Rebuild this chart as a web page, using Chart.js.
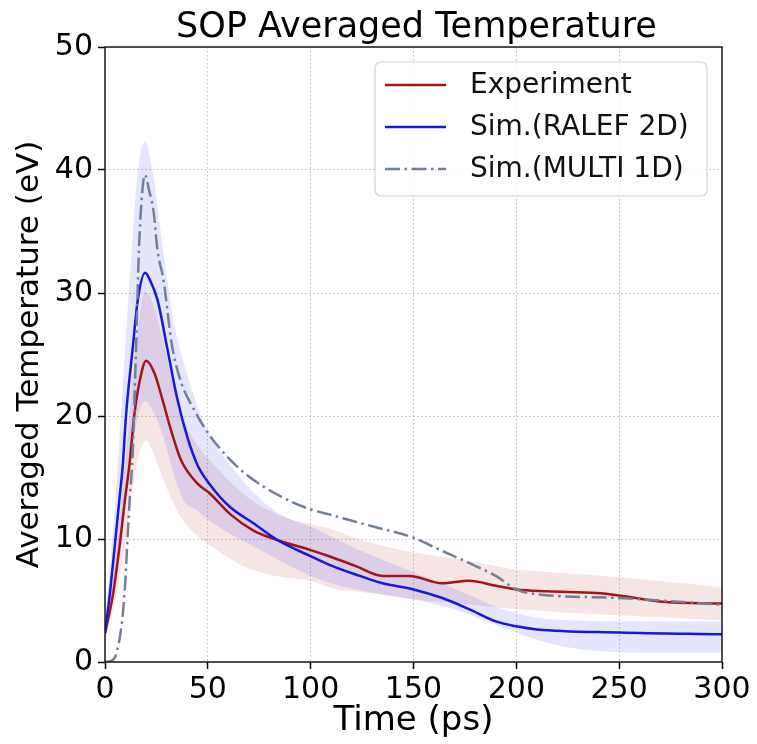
<!DOCTYPE html>
<html>
<head>
<meta charset="utf-8">
<script src="https://cdn.jsdelivr.net/npm/chart.js@4.4.1/dist/chart.umd.min.js"></script>
<style>
  html, body { margin: 0; padding: 0; background: #ffffff; }
  #wrap { position: relative; width: 757px; height: 744px; }
</style>
</head>
<body>
<div id="wrap"><canvas id="c" width="757" height="744"></canvas></div>
<script>
// ---------- data ----------
const chartTitle = 'SOP Averaged Temperature';
const xTitle = 'Time (ps)';
const yTitle = 'Averaged Temperature (eV)';
const seriesNames = ['Experiment', 'Sim.(RALEF 2D)', 'Sim.(MULTI 1D)'];

const expTime = [0, 4, 7.3, 9.7, 11.8, 14.2, 16.7, 20, 24, 28, 32, 37, 45, 51, 61, 72, 84, 100, 109, 122, 135, 148, 164, 177, 190, 200, 215, 239, 250, 271, 300];
const expTemp = [2.3, 5.6, 9.7, 13.2, 15.9, 20, 22.7, 24.5, 23.5, 21.3, 18.9, 16.4, 14.5, 13.7, 12.0, 10.7, 9.9, 9.1, 8.6, 7.8, 7.0, 7.0, 6.4, 6.6, 6.2, 5.9, 5.75, 5.6, 5.4, 4.9, 4.75];

const ralefTime = [0, 2.4, 4.9, 7.3, 8.6, 10.2, 13.4, 16, 19.5, 22, 25.6, 30.4, 35, 40, 45, 50.7, 60.8, 72, 84, 100, 109, 124, 135, 150, 164, 177, 190, 200, 210, 250, 300];
const ralefTemp = [2.4, 5.6, 9.7, 13.7, 15.9, 20, 25.4, 29.5, 31.65, 31, 29.4, 25.4, 21.5, 18.3, 16.0, 14.5, 12.6, 11.3, 9.9, 8.6, 7.9, 7.0, 6.4, 5.9, 5.2, 4.3, 3.3, 2.9, 2.65, 2.4, 2.25];

const multiTime = [0, 3, 5, 8, 9.7, 10.9, 12.2, 13.3, 15, 16.5, 18, 19.4, 21.5, 23.7, 25.5, 28.5, 32.4, 36.5, 44, 51, 60, 69, 85, 100, 109, 124, 133, 150, 163, 177, 190, 200, 206, 250, 296, 300];
const multiTemp = [0, 0.1, 0.45, 2.9, 6.1, 9.9, 13.7, 16.4, 25, 33.5, 38, 39.6, 38.3, 36.5, 33.5, 31, 25.9, 23, 20.3, 18.4, 16.6, 15.2, 13.5, 12.4, 12.0, 11.3, 10.9, 10.1, 9.1, 8.05, 7.0, 5.9, 5.6, 5.2, 4.7, 4.65];

const bandTime   = [0, 5, 10, 13, 16, 19.5, 23, 28, 33, 38, 45, 50, 60, 70, 80, 90, 100, 110, 125, 150, 175, 190, 200, 210, 225, 250, 275, 300];
const expUpper   = [2.6, 8.3, 16.5, 22, 27, 30.1, 29.3, 26.2, 22.6, 19.8, 17.6, 16.6, 14.8, 13.3, 12.3, 11.6, 11.2, 10.8, 9.9, 8.9, 8.3, 7.8, 7.5, 7.4, 7.2, 6.9, 6.5, 6.1];
const expLower   = [2.0, 5.0, 10.0, 13.5, 16.5, 18.0, 17.2, 15.0, 13.0, 11.5, 10.2, 9.6, 8.5, 7.6, 7.1, 6.8, 6.6, 6.0, 5.7, 5.1, 4.7, 4.45, 4.3, 4.2, 4.0, 3.8, 3.6, 3.4];
const ralefUpper = [3.2, 13, 26, 33.5, 40, 42.3, 40, 33.8, 28, 24.5, 20.8, 18.8, 16.2, 14.2, 12.6, 11.6, 11.0, 10.2, 9.0, 7.3, 5.6, 4.5, 4.0, 3.6, 3.4, 3.3, 3.3, 3.3];
const ralefLower = [1.8, 6.8, 13.5, 17, 20, 21.2, 20.5, 18.5, 15.5, 13.2, 12.3, 11.6, 10.5, 9.6, 8.7, 7.8, 7.0, 6.4, 5.8, 5.1, 4.0, 3.0, 2.4, 1.8, 1.2, 0.8, 0.76, 0.76];

const xTicks = [0, 50, 100, 150, 200, 250, 300];
const yTicks = [0, 10, 20, 30, 40, 50];

// ---------- styles ----------
const RED = '#a3141a';
const BLUE = '#1818d8';
const GRAY = '#718096';
const DASHDOT = [15, 4.5, 2.5, 4.5];
const FONT = "'DejaVu Sans', 'Liberation Sans', sans-serif";

function pts(xs, ys) { return xs.map((x, i) => ({ x: x, y: ys[i] })); }

const lineBase = { pointRadius: 0, borderWidth: 2.5, fill: false, cubicInterpolationMode: 'monotone' };
const bandBase = { pointRadius: 0, borderWidth: 0, borderColor: 'rgba(0,0,0,0)', cubicInterpolationMode: 'monotone' };

const datasets = [
  Object.assign({ label: seriesNames[2], data: pts(multiTime, multiTemp), borderColor: GRAY, borderDash: DASHDOT, order: 0 }, lineBase),
  Object.assign({ label: seriesNames[1], data: pts(ralefTime, ralefTemp), borderColor: BLUE, order: 1 }, lineBase),
  Object.assign({ label: seriesNames[0], data: pts(expTime, expTemp), borderColor: RED, order: 2 }, lineBase),
  Object.assign({ label: 'ralefLower', data: pts(bandTime, ralefLower), fill: '+1', backgroundColor: 'rgba(30,30,235,0.115)', order: 3 }, bandBase),
  Object.assign({ label: 'ralefUpper', data: pts(bandTime, ralefUpper), fill: false, order: 4 }, bandBase),
  Object.assign({ label: 'expLower', data: pts(bandTime, expLower), fill: '+1', backgroundColor: 'rgba(165,20,20,0.11)', order: 5 }, bandBase),
  Object.assign({ label: 'expUpper', data: pts(bandTime, expUpper), fill: false, order: 6 }, bandBase)
];

const legendItems = [
  { text: seriesNames[0], color: RED, dash: [] },
  { text: seriesNames[1], color: BLUE, dash: [] },
  { text: seriesNames[2], color: GRAY, dash: DASHDOT }
];

const decorPlugin = {
  id: 'decor',
  afterDatasetsDraw(chart) {
    const ctx = chart.ctx, a = chart.chartArea;
    ctx.save();
    ctx.strokeStyle = '#1a1a1a';
    ctx.lineWidth = 1.5;
    ctx.setLineDash([]);
    ctx.strokeRect(a.left, a.top, a.right - a.left, a.bottom - a.top);
    ctx.restore();
  },
  afterDraw(chart) {
    const ctx = chart.ctx, a = chart.chartArea;
    ctx.save();
    // title
    ctx.fillStyle = '#000';
    ctx.font = '35px ' + FONT;
    ctx.textAlign = 'center';
    ctx.textBaseline = 'alphabetic';
    ctx.fillText(chartTitle, (a.left + a.right) / 2 + 3, 37);
    // legend box
    const bx = 375, by = 62, bw = 332, bh = 134, r = 6;
    ctx.beginPath();
    ctx.moveTo(bx + r, by);
    ctx.arcTo(bx + bw, by, bx + bw, by + bh, r);
    ctx.arcTo(bx + bw, by + bh, bx, by + bh, r);
    ctx.arcTo(bx, by + bh, bx, by, r);
    ctx.arcTo(bx, by, bx + bw, by, r);
    ctx.closePath();
    ctx.fillStyle = 'rgba(255,255,255,0.8)';
    ctx.fill();
    ctx.strokeStyle = '#d4d4d4';
    ctx.lineWidth = 1.2;
    ctx.stroke();
    ctx.font = '28px ' + FONT;
    ctx.textAlign = 'left';
    ctx.textBaseline = 'middle';
    legendItems.forEach((it, i) => {
      const y = 85 + i * 42;
      ctx.beginPath();
      ctx.strokeStyle = it.color;
      ctx.lineWidth = 2.5;
      ctx.setLineDash(it.dash);
      ctx.moveTo(385, y);
      ctx.lineTo(446, y);
      ctx.stroke();
      ctx.setLineDash([]);
      ctx.fillStyle = '#111';
      ctx.fillText(it.text, 470, y + 1);
    });
    ctx.restore();
  }
};

new Chart(document.getElementById('c'), {
  type: 'line',
  data: { datasets: datasets },
  options: {
    responsive: false,
    animation: false,
    events: [],
    layout: { padding: { top: 47, right: 35, left: 0, bottom: 0 } },
    plugins: {
      legend: { display: false },
      tooltip: { enabled: false },
      filler: { propagate: false }
    },
    scales: {
      x: {
        type: 'linear',
        min: 0, max: 300,
        afterBuildTicks(s) { s.ticks = xTicks.map(v => ({ value: v })); },
        afterFit(s) { s.height = 82; },
        ticks: { font: { family: FONT, size: 30 }, color: '#000', padding: 3, maxRotation: 0 },
        grid: { color: 'rgba(170,170,170,0.75)', lineWidth: 1, drawTicks: true, tickLength: 7, tickColor: '#000', tickWidth: 1.5 },
        border: { display: false, dash: [1.5, 2.5] },
        title: { display: true, text: xTitle, font: { family: FONT, size: 34 }, color: '#000', padding: { top: 0, bottom: 2 } }
      },
      y: {
        type: 'linear',
        min: 0, max: 50,
        afterBuildTicks(s) { s.ticks = yTicks.map(v => ({ value: v })); },
        afterFit(s) { s.width = 105; },
        ticks: { font: { family: FONT, size: 30 }, color: '#000', padding: 5 },
        grid: { color: 'rgba(170,170,170,0.75)', lineWidth: 1, drawTicks: true, tickLength: 7, tickColor: '#000', tickWidth: 1.5 },
        border: { display: false, dash: [1.5, 2.5] },
        title: { display: true, text: yTitle, font: { family: FONT, size: 31 }, color: '#000', padding: { top: 11, bottom: 0 } }
      }
    }
  },
  plugins: [decorPlugin]
});
</script>
</body>
</html>
